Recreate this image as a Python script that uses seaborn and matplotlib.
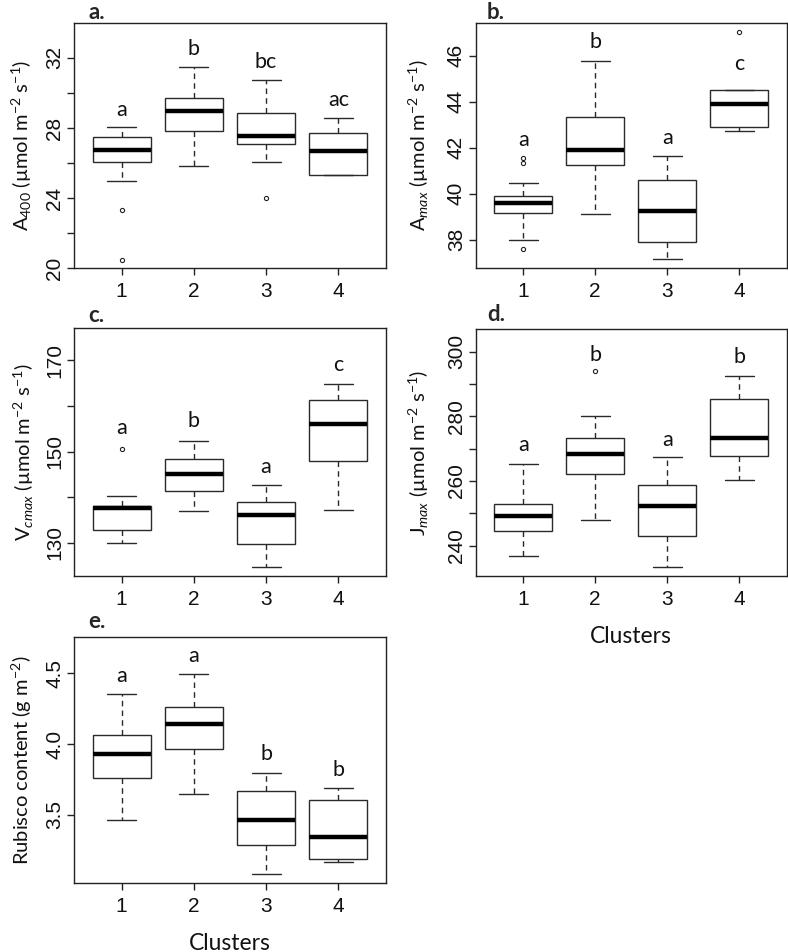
import numpy as np
import pandas as pd
import matplotlib
matplotlib.use("Agg")
import matplotlib.pyplot as plt
import seaborn as sns

sns.set_theme(style="ticks")
plt.rcParams["font.family"] = ["Liberation Sans", "DejaVu Sans"]
plt.rcParams["mathtext.fontset"] = "custom"
plt.rcParams["mathtext.rm"] = "Lato"
plt.rcParams["mathtext.it"] = "Lato:italic"

clusters = ["1", "2", "3", "4"]

# ---- panel a: A400 ----
a_lo = [25.0, 25.81, 26.06, 25.34]
a_q1 = [26.06, 27.80, 27.10, 25.34]
a_med = [26.74, 28.98, 27.56, 26.67]
a_q3 = [27.48, 29.70, 28.88, 27.73]
a_hi = [28.03, 31.46, 30.72, 28.56]
a_out_cluster = ["1", "1", "3"]
a_out_value = [23.35, 20.47, 24.0]
a_letters = ["a", "b", "bc", "ac"]
a_letter_y = [29.0, 32.5, 31.74, 29.6]

# ---- panel b: Amax ----
b_lo = [38.0, 39.12, 37.14, 42.72]
b_q1 = [39.14, 41.24, 37.90, 42.91]
b_med = [39.60, 41.91, 39.24, 43.90]
b_q3 = [39.90, 43.32, 40.60, 44.50]
b_hi = [40.46, 45.78, 41.64, 44.50]
b_out_cluster = ["1", "1", "1", "4"]
b_out_value = [41.53, 41.32, 37.60, 47.04]
b_letters = ["a", "b", "a", "c"]
b_letter_y = [42.32, 46.6, 42.42, 45.63]

# ---- panel c: Vcmax ----
c_lo = [130.0, 137.08, 124.82, 137.30]
c_q1 = [132.85, 141.46, 129.71, 147.96]
c_med = [137.59, 145.11, 136.06, 156.06]
c_q3 = [138.10, 148.47, 139.05, 161.24]
c_hi = [140.36, 152.34, 142.77, 164.82]
c_out_cluster = ["1"]
c_out_value = [150.51]
c_letters = ["a", "b", "a", "c"]
c_letter_y = [155.1, 156.6, 146.7, 169.0]

# ---- panel d: Jmax ----
d_lo = [236.70, 247.84, 233.51, 260.21]
d_q1 = [244.64, 262.16, 242.99, 267.63]
d_med = [249.18, 268.45, 252.16, 273.30]
d_q3 = [252.99, 273.20, 258.76, 285.46]
d_hi = [265.36, 280.10, 267.32, 292.47]
d_out_cluster = ["2"]
d_out_value = [294.12]
d_letters = ["a", "b", "a", "b"]
d_letter_y = [271.1, 299.0, 272.7, 298.2]

# ---- panel e: Rubisco ----
e_lo = [3.465, 3.648, 3.081, 3.171]
e_q1 = [3.759, 3.968, 3.288, 3.189]
e_med = [3.928, 4.145, 3.467, 3.347]
e_q3 = [4.067, 4.260, 3.672, 3.606]
e_hi = [4.352, 4.495, 3.799, 3.691]
e_out_cluster = []
e_out_value = []
e_letters = ["a", "a", "b", "b"]
e_letter_y = [4.48, 4.62, 3.93, 3.82]

LBL = "Lato"
W, H = 788, 952
fig = plt.figure(figsize=(W / 100, H / 100), dpi=100)


def make_ax(left, top, right, bottom):
    return fig.add_axes([left / W, 1 - bottom / H, (right - left) / W, (bottom - top) / H])


def panel(ax, lo, q1, med, q3, hi, oc, ov, letters, ly, ylim, yticks, ylabels,
          ylabel, title, title_x, title_y, label_x, xlabel=None):
    rows = []
    for c, vals in zip(clusters, zip(lo, q1, med, q3, hi)):
        for v in vals:
            rows.append((c, v))
    df = pd.DataFrame(rows, columns=["cluster", "value"])
    sns.boxplot(data=df, x="cluster", y="value", order=clusters, whis=(0, 100),
                width=0.8, color="white", linecolor="#2a2a2a", linewidth=1.0,
                medianprops=dict(linewidth=3.2, color="black", solid_capstyle="butt"),
                whiskerprops=dict(linestyle=(0, (4, 3))),
                ax=ax)
    if len(ov):
        odf = pd.DataFrame({"cluster": oc, "value": ov})
        sns.stripplot(data=odf, x="cluster", y="value", order=clusters, jitter=False,
                      color="white", edgecolor="#222222", linewidth=0.8, size=3.0,
                      ax=ax, zorder=5)
    for i, (t, y) in enumerate(zip(letters, ly)):
        ax.text(i, y, t, ha="center", va="center", fontsize=15.5, family=LBL,
                color="#111111")
    ax.set_xlim(-0.66, 3.66)
    ax.set_ylim(*ylim)
    ax.set_yticks(yticks)
    ax.set_yticklabels(ylabels)
    ax.set_xticks(range(4))
    ax.set_xticklabels(clusters)
    ax.tick_params(axis="y", labelsize=15, length=5, width=1, pad=2,
                   color="#222222", labelcolor="#111111")
    ax.tick_params(axis="x", labelsize=15, length=5, width=1, pad=5,
                   color="#222222", labelcolor="#111111")
    for lab in ax.get_yticklabels():
        lab.set_rotation(90)
        lab.set_va("center")
    for s in ax.spines.values():
        s.set_visible(True)
        s.set_linewidth(1.0)
        s.set_color("#222222")
    ax.set_ylabel(ylabel, fontsize=14.5, family=LBL, va="center", color="#111111")
    ax.yaxis.set_label_coords(label_x, 0.5)
    if xlabel:
        ax.set_xlabel(xlabel, fontsize=16.5, family=LBL, va="baseline", color="#111111")
        ax.xaxis.set_label_coords(0.5, -0.27)
    else:
        ax.set_xlabel("")
    ax.text(title_x, title_y, title, transform=ax.transAxes, fontsize=16,
            fontweight="bold", family=LBL, ha="left", va="baseline")
    ax.grid(False)


ax_a = make_ax(74, 22.7, 386, 268.3)
panel(ax_a, a_lo, a_q1, a_med, a_q3, a_hi, a_out_cluster, a_out_value, a_letters,
      a_letter_y, (20, 34), [20, 22, 24, 26, 28, 30, 32],
      ["20", "", "24", "", "28", "", "32"],
      r"$\mathrm{A}_{\mathit{400}}$ (µmol m$^{\mathrm{-2}}$ s$^{\mathrm{-1}}$)",
      "a.", 0.045, 1.016, -0.167)

ax_b = make_ax(475.7, 22.7, 786.7, 268.3)
panel(ax_b, b_lo, b_q1, b_med, b_q3, b_hi, b_out_cluster, b_out_value, b_letters,
      b_letter_y, (36.75, 47.44), [38, 40, 42, 44, 46],
      ["38", "40", "42", "44", "46"],
      r"$\mathrm{A}_{\mathit{max}}$ (µmol m$^{\mathrm{-2}}$ s$^{\mathrm{-1}}$)",
      "b.", 0.036, 1.016, -0.182)

ax_c = make_ax(74, 328.3, 386, 576)
panel(ax_c, c_lo, c_q1, c_med, c_q3, c_hi, c_out_cluster, c_out_value, c_letters,
      c_letter_y, (122.77, 177.0), [130, 140, 150, 160, 170],
      ["130", "", "150", "", "170"],
      r"$\mathrm{V}_{\mathit{cmax}}$ (µmol m$^{\mathrm{-2}}$ s$^{\mathrm{-1}}$)",
      "c.", 0.045, 1.027, -0.16)

ax_d = make_ax(475.7, 329.3, 786.7, 576)
panel(ax_d, d_lo, d_q1, d_med, d_q3, d_hi, d_out_cluster, d_out_value, d_letters,
      d_letter_y, (230.62, 306.9), [240, 250, 260, 270, 280, 290, 300],
      ["240", "", "260", "", "280", "", "300"],
      r"$\mathrm{J}_{\mathit{max}}$ (µmol m$^{\mathrm{-2}}$ s$^{\mathrm{-1}}$)",
      "d.", 0.036, 1.033, -0.182, xlabel="Clusters")

ax_e = make_ax(74, 637.3, 386, 883.3)
panel(ax_e, e_lo, e_q1, e_med, e_q3, e_hi, e_out_cluster, e_out_value, e_letters,
      e_letter_y, (3.018, 4.754), [3.5, 4.0, 4.5], ["3.5", "4.0", "4.5"],
      r"Rubisco content (g m$^{\mathrm{-2}}$)",
      "e.", 0.045, 1.038, -0.167, xlabel="Clusters")

fig.savefig("out.png", dpi=100, facecolor="white")
